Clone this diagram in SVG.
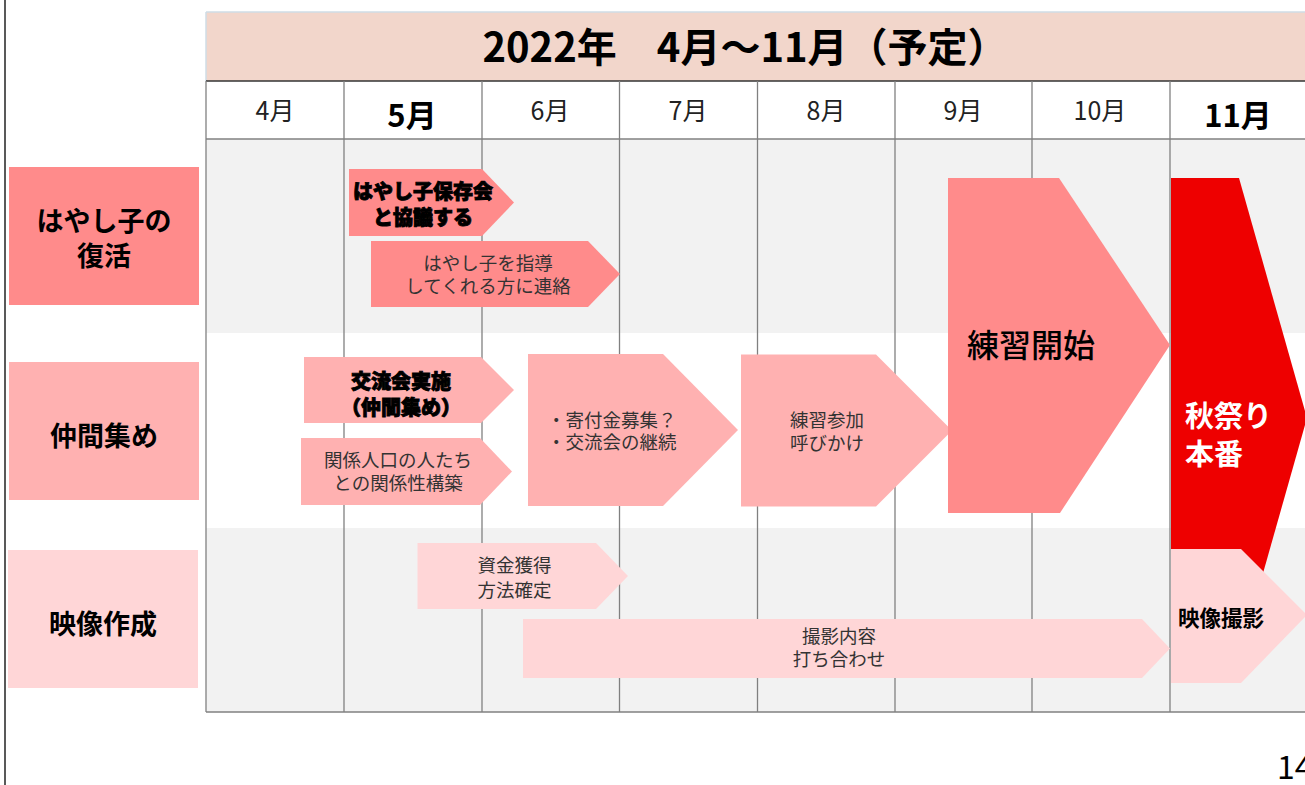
<svg xmlns="http://www.w3.org/2000/svg" width="1305" height="785" viewBox="0 0 1305 785">
<style>
text{font-family:"Noto Sans CJK JP","Noto Sans",sans-serif;}
.grid{stroke:#808080;stroke-width:1.3;fill:none;}
.mon{font-size:25px;fill:#222;text-anchor:middle;}
.monb{font-size:31px;font-weight:700;fill:#000;text-anchor:middle;}
.lbl{font-size:27px;font-weight:700;fill:#000;text-anchor:middle;}
.reg{font-size:18.5px;fill:#333;text-anchor:middle;}
.regl{font-size:18.5px;fill:#333;text-anchor:start;}
.heavy{font-size:20px;font-weight:900;fill:#000;stroke:#000;stroke-width:0.9;text-anchor:middle;}
.c1{fill:#FF8B8B;}
.c2{fill:#FFB1B1;}
.c3{fill:#FFD6D7;}
</style>
<rect x="0" y="0" width="1305" height="785" fill="#FFFFFF"/>
<line x1="5" y1="0" x2="5" y2="785" stroke="#222" stroke-width="1.5"/>

<g id="table">
  <rect x="206" y="12" width="1099" height="69" fill="#F2D6CB"/>
  <line x1="206" y1="12" x2="1305" y2="12" stroke="#CFDDE6" stroke-width="1.5"/>
  <line x1="206" y1="12" x2="206" y2="81" stroke="#CFDDE6" stroke-width="1.5"/>
  <text x="745" y="62" font-size="40" font-weight="700" fill="#000" text-anchor="middle">2022年　4月～11月（予定）</text>
  <rect x="206" y="81" width="1099" height="58" fill="#FFFFFF"/>
  <rect x="206" y="139" width="1099" height="194" fill="#F2F2F2"/>
  <rect x="206" y="333" width="1099" height="195" fill="#FFFFFF"/>
  <rect x="206" y="528" width="1099" height="184" fill="#F2F2F2"/>
  <line x1="206" y1="81" x2="1305" y2="81" stroke="#333" stroke-width="1.5"/>
  <line class="grid" x1="206" y1="139" x2="1305" y2="139"/>
  <line class="grid" x1="206" y1="712" x2="1305" y2="712"/>
  <line class="grid" x1="206" y1="81" x2="206" y2="712"/>
  <line class="grid" x1="344" y1="81" x2="344" y2="712"/>
  <line class="grid" x1="482" y1="81" x2="482" y2="712"/>
  <line class="grid" x1="619.5" y1="81" x2="619.5" y2="712"/>
  <line class="grid" x1="757.5" y1="81" x2="757.5" y2="712"/>
  <line class="grid" x1="895" y1="81" x2="895" y2="712"/>
  <line class="grid" x1="1032" y1="81" x2="1032" y2="712"/>
  <line class="grid" x1="1170" y1="81" x2="1170" y2="712"/>
  <text class="mon" x="275" y="120">4月</text>
  <text class="monb" x="412" y="127">5月</text>
  <text class="mon" x="550" y="120">6月</text>
  <text class="mon" x="688" y="120">7月</text>
  <text class="mon" x="826" y="120">8月</text>
  <text class="mon" x="963" y="120">9月</text>
  <text class="mon" x="1100" y="120">10月</text>
  <text class="monb" x="1238" y="127">11月</text>
</g>

<g id="row-hayashi">
  <rect class="c1" x="9" y="167" width="190" height="138"/>
  <text class="lbl" x="104" y="231">はやし子の</text>
  <text class="lbl" x="104" y="266">復活</text>
</g>
<g id="row-nakama">
  <rect class="c2" x="9" y="362" width="190" height="138"/>
  <text class="lbl" x="104" y="446" font-size="28">仲間集め</text>
</g>
<g id="row-eizo">
  <rect class="c3" x="8" y="550" width="190" height="138"/>
  <text class="lbl" x="103" y="634" font-size="28">映像作成</text>
</g>

<g id="node-kyogi">
  <polygon class="c1" points="349,169 482,169 514,202.5 482,236 349,236"/>
  <text class="heavy" x="423" y="199">はやし子保存会</text>
  <text class="heavy" x="423" y="225">と協議する</text>
</g>
<g id="node-renraku">
  <polygon class="c1" points="371,241 588,241 620,274 588,307 371,307"/>
  <text class="reg" x="488" y="270">はやし子を指導</text>
  <text class="reg" x="488" y="293">してくれる方に連絡</text>
</g>
<g id="node-koryu">
  <polygon class="c2" points="304,357 481,357 514,390 481,423 304,423"/>
  <text class="heavy" x="401" y="389">交流会実施</text>
  <text class="heavy" x="401" y="415">（仲間集め）</text>
</g>
<g id="node-kankei">
  <polygon class="c2" points="301,438 480,438 512,471.5 480,505 301,505"/>
  <text class="reg" x="398" y="467">関係人口の人たち</text>
  <text class="reg" x="398" y="490">との関係性構築</text>
</g>
<g id="node-kifu">
  <polygon class="c2" points="528,354 663,354 738,430 663,506 528,506"/>
  <text class="regl" x="547" y="427">・寄付金募集？</text>
  <text class="regl" x="547" y="449">・交流会の継続</text>
</g>
<g id="node-yobikake">
  <polygon class="c2" points="741,354.5 876,354.5 952,430.5 876,506.5 741,506.5"/>
  <text class="reg" x="827" y="427">練習参加</text>
  <text class="reg" x="827" y="450">呼びかけ</text>
</g>
<g id="node-renshu">
  <polygon class="c1" points="948,178 1059,178 1170,345 1060,513 948,513"/>
  <text x="1031" y="357" font-size="32" font-weight="500" fill="#000" text-anchor="middle">練習開始</text>
</g>
<g id="node-shikin">
  <polygon class="c3" points="417.5,543 596,543 628,576 596,609 417.5,609"/>
  <text class="reg" x="514.5" y="572" font-size="21">資金獲得</text>
  <text class="reg" x="514.5" y="597" font-size="21">方法確定</text>
</g>
<g id="node-uchiawase">
  <polygon class="c3" points="523,619 1142,619 1170,648.5 1142,678 523,678"/>
  <text class="reg" x="839" y="643">撮影内容</text>
  <text class="reg" x="839" y="666">打ち合わせ</text>
</g>
<g id="node-honban">
  <polygon fill="#EE0000" points="1171,178 1239,178 1307,418 1239,658 1171,658"/>
  <text x="1185" y="427" font-size="29" font-weight="700" fill="#FFFFFF">秋祭り</text>
  <text x="1185" y="465" font-size="29" font-weight="700" fill="#FFFFFF">本番</text>
</g>
<g id="node-satsuei">
  <polygon class="c3" points="1171,549 1241,549 1307,615 1241,683 1171,683"/>
  <text x="1178" y="626" font-size="21.5" font-weight="700" fill="#000">映像撮影</text>
</g>
<g id="connectors"></g>

<text x="1277" y="779" font-family="'Liberation Sans',Arial,sans-serif" font-size="32" fill="#000">14</text>
</svg>
